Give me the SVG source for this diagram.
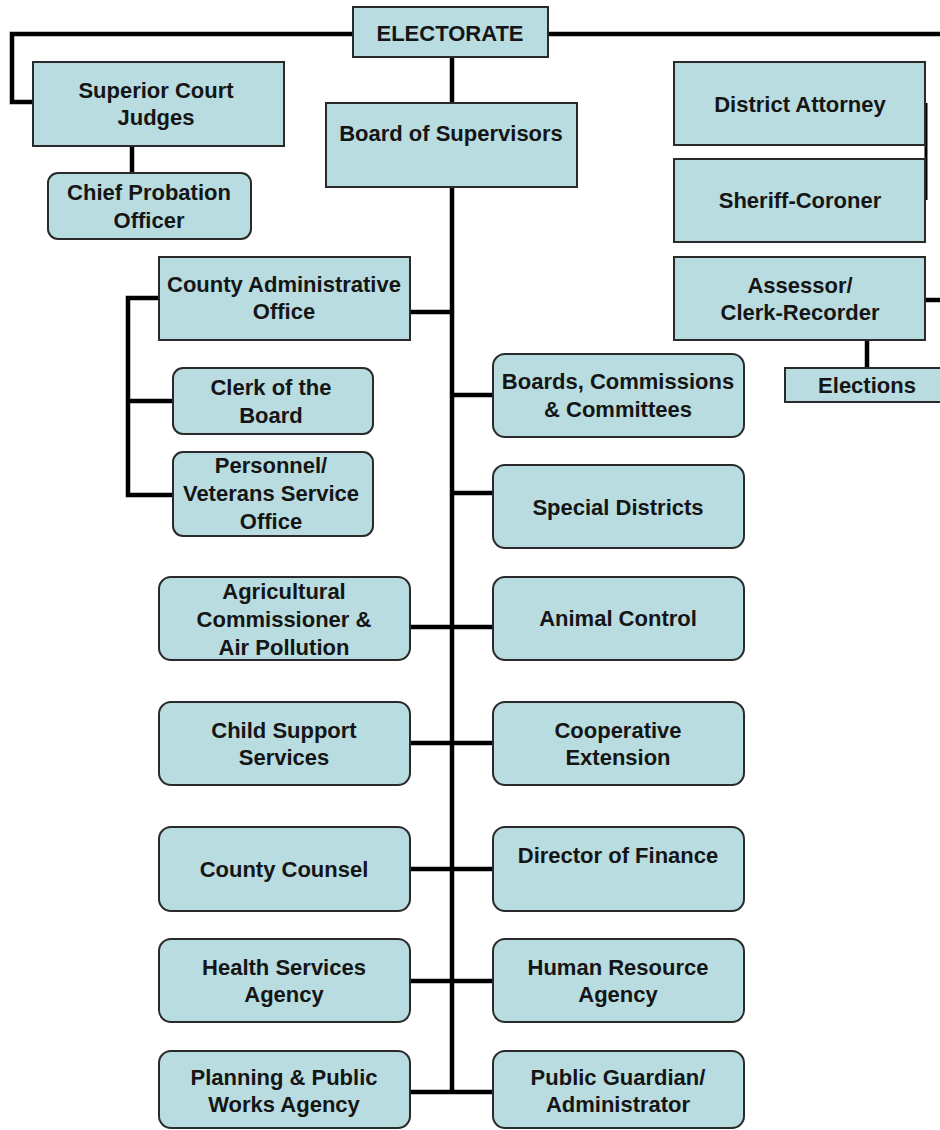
<svg xmlns="http://www.w3.org/2000/svg" width="940" height="1130" viewBox="0 0 940 1130">
<style>
.bx{fill:#b8dce0;stroke:#2a2a2a;stroke-width:2}
.ln{fill:none;stroke:#000;stroke-width:4.5}
.tx{font-family:"Liberation Sans",Arial,sans-serif;font-weight:bold;font-size:22px;fill:#151515;text-anchor:middle}
</style>
<rect width="940" height="1130" fill="#fff"/>
<g id="connectors">
<path class="ln" d="M353,34 H12 V102 H33"/>
<path class="ln" d="M548,34 H940"/>
<path class="ln" d="M452,57 V103"/>
<path class="ln" d="M452,187 V1094"/>
<path class="ln" d="M132,146 V173"/>
<path class="ln" d="M926,103 V200" style="stroke-width:3"/>
<path class="ln" d="M925,300 H940"/>
<path class="ln" d="M867,340 V368"/>
<path class="ln" d="M410,312 H452"/>
<path class="ln" d="M159,298 H128 V495 H173"/>
<path class="ln" d="M128,401 H173"/>
<path class="ln" d="M452,395 H493"/>
<path class="ln" d="M452,493 H493"/>
<path class="ln" d="M410,627 H493"/>
<path class="ln" d="M410,743 H493"/>
<path class="ln" d="M410,869 H493"/>
<path class="ln" d="M410,981 H493"/>
<path class="ln" d="M410,1092 H493"/>
</g>
<g id="electorate"><rect class="bx" x="353" y="7" width="195" height="50"/><text class="tx" x="450" y="41">ELECTORATE</text></g>
<g id="superior-court"><rect class="bx" x="33" y="62" width="251" height="84"/><text class="tx" x="156" y="98">Superior Court</text><text class="tx" x="156" y="125">Judges</text></g>
<g id="chief-probation"><rect class="bx" x="48" y="173" width="203" height="66" rx="10"/><text class="tx" x="149" y="200">Chief Probation</text><text class="tx" x="149" y="228">Officer</text></g>
<g id="board-of-supervisors"><rect class="bx" x="326" y="103" width="251" height="84"/><text class="tx" x="451" y="141">Board of Supervisors</text></g>
<g id="district-attorney"><rect class="bx" x="674" y="62" width="251" height="83"/><text class="tx" x="800" y="112">District Attorney</text></g>
<g id="sheriff-coroner"><rect class="bx" x="674" y="159" width="251" height="83"/><text class="tx" x="800" y="208">Sheriff-Coroner</text></g>
<g id="assessor"><rect class="bx" x="674" y="257" width="251" height="83"/><text class="tx" x="800" y="293">Assessor/</text><text class="tx" x="800" y="320">Clerk-Recorder</text></g>
<g id="elections"><rect class="bx" x="785" y="368" width="164" height="34"/><text class="tx" x="867" y="393">Elections</text></g>
<g id="county-admin"><rect class="bx" x="159" y="257" width="251" height="83"/><text class="tx" x="284" y="292">County Administrative</text><text class="tx" x="284" y="319">Office</text></g>
<g id="clerk-of-board"><rect class="bx" x="173" y="368" width="200" height="66" rx="10"/><text class="tx" x="271" y="395">Clerk of the</text><text class="tx" x="271" y="423">Board</text></g>
<g id="personnel"><rect class="bx" x="173" y="452" width="200" height="84" rx="10"/><text class="tx" x="271" y="473">Personnel/</text><text class="tx" x="271" y="501">Veterans Service</text><text class="tx" x="271" y="529">Office</text></g>
<g id="boards-commissions"><rect class="bx" x="493" y="354" width="251" height="83" rx="12"/><text class="tx" x="618" y="389">Boards, Commissions</text><text class="tx" x="618" y="417">&amp; Committees</text></g>
<g id="special-districts"><rect class="bx" x="493" y="465" width="251" height="83" rx="12"/><text class="tx" x="618" y="515">Special Districts</text></g>
<g id="agricultural"><rect class="bx" x="159" y="577" width="251" height="83" rx="12"/><text class="tx" x="284" y="599">Agricultural</text><text class="tx" x="284" y="627">Commissioner &amp;</text><text class="tx" x="284" y="655">Air Pollution</text></g>
<g id="animal-control"><rect class="bx" x="493" y="577" width="251" height="83" rx="12"/><text class="tx" x="618" y="626">Animal Control</text></g>
<g id="child-support"><rect class="bx" x="159" y="702" width="251" height="83" rx="12"/><text class="tx" x="284" y="738">Child Support</text><text class="tx" x="284" y="765">Services</text></g>
<g id="cooperative-extension"><rect class="bx" x="493" y="702" width="251" height="83" rx="12"/><text class="tx" x="618" y="738">Cooperative</text><text class="tx" x="618" y="765">Extension</text></g>
<g id="county-counsel"><rect class="bx" x="159" y="827" width="251" height="84" rx="12"/><text class="tx" x="284" y="877">County Counsel</text></g>
<g id="director-of-finance"><rect class="bx" x="493" y="827" width="251" height="84" rx="12"/><text class="tx" x="618" y="863">Director of Finance</text></g>
<g id="health-services"><rect class="bx" x="159" y="939" width="251" height="83" rx="12"/><text class="tx" x="284" y="975">Health Services</text><text class="tx" x="284" y="1002">Agency</text></g>
<g id="human-resource"><rect class="bx" x="493" y="939" width="251" height="83" rx="12"/><text class="tx" x="618" y="975">Human Resource</text><text class="tx" x="618" y="1002">Agency</text></g>
<g id="planning"><rect class="bx" x="159" y="1051" width="251" height="77" rx="12"/><text class="tx" x="284" y="1085">Planning &amp; Public</text><text class="tx" x="284" y="1112">Works Agency</text></g>
<g id="public-guardian"><rect class="bx" x="493" y="1051" width="251" height="77" rx="12"/><text class="tx" x="618" y="1085">Public Guardian/</text><text class="tx" x="618" y="1112">Administrator</text></g>
</svg>
